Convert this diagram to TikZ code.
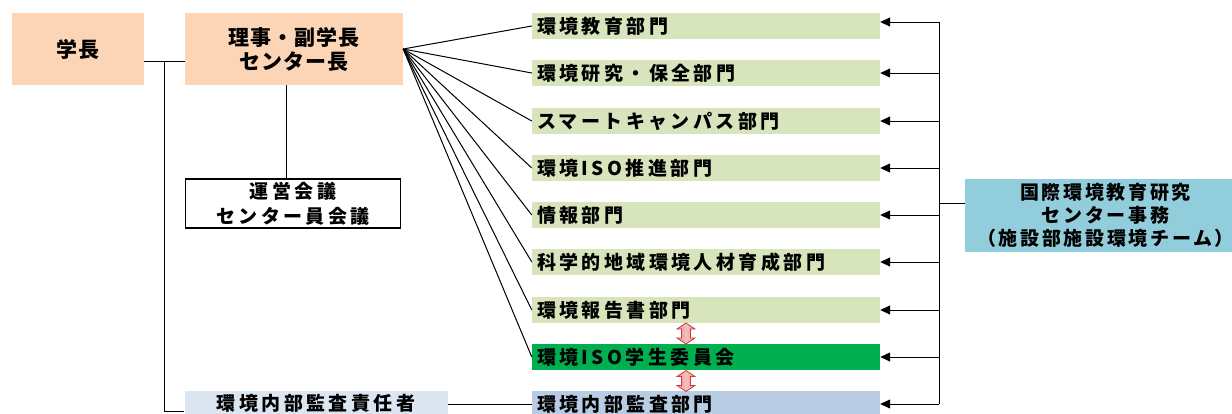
\documentclass[tikz,border=0pt]{standalone}
\usepackage{fontspec}
\usetikzlibrary{arrows.meta}
\newfontfamily\jprow{Noto Sans CJK JP}[LetterSpace=18]
\newfontfamily\jptop{Noto Sans CJK JP}[LetterSpace=4]
\newfontfamily\jpoff{Noto Sans CJK JP}[LetterSpace=14]
\definecolor{peach}{RGB}{251,213,181}
\definecolor{lgreen}{RGB}{216,228,188}
\definecolor{isog}{RGB}{0,176,80}
\definecolor{kansa}{RGB}{184,204,228}
\definecolor{sekin}{RGB}{220,230,241}
\definecolor{officec}{RGB}{146,205,220}
\definecolor{darrfill}{RGB}{236,140,140}
\definecolor{darrline}{RGB}{200,60,60}
\tikzset{
  topbox/.style={fill=peach, inner sep=0pt, align=center,
    font=\jptop\bfseries\fontsize{21}{24}\selectfont},
  rowbox/.style={minimum height=26pt, text width=338pt, inner xsep=5pt, inner ysep=0pt,
    align=left, font=\jprow\bfseries\fontsize{19}{22}\selectfont},
  plainbox/.style={inner sep=0pt, align=center,
    font=\jprow\bfseries\fontsize{19}{25}\selectfont},
  conn/.style={line width=1pt, black},
  arr/.style={line width=1pt, black, -{Triangle[length=10pt,width=9pt]}},
  darrs/.style={draw=darrline, line width=0.8pt, left color=darrfill,
    right color=darrfill, middle color=darrfill!55}
}
\newcommand{\dblarrow}[1]{%
  \path[darrs] (#1) ++(0,-10.5) -- ++(9,6) -- ++(-4.5,0) -- ++(0,9) -- ++(4.5,0)
    -- ++(-9,6) -- ++(-9,-6) -- ++(4.5,0) -- ++(0,-9) -- ++(-4.5,0) -- cycle;}
\begin{document}
\begin{tikzpicture}[x=1pt,y=-1pt]
\useasboundingbox (0,0) rectangle (1232,413);
\clip (0,0) rectangle (1232,413);
% left boxes
\node[topbox, minimum width=132pt, minimum height=72pt] (gaku) at (78,49) {学長};
\node[topbox, minimum width=218pt, minimum height=72pt] (riji) at (294,49) {理事・副学長\\センター長};
\node[plainbox, draw, line width=1.6pt, minimum width=215pt, minimum height=49pt] (unei) at (293,203.5) {運営会議\\センター員会議};
\node[plainbox, fill=sekin, minimum width=263pt, minimum height=24pt] (sekinin) at (316,403) {環境内部監査責任者};
% rows
\node[rowbox, fill=lgreen] (r1) at (706,26) {環境教育部門};
\node[rowbox, fill=lgreen] (r2) at (706,73) {環境研究・保全部門};
\node[rowbox, fill=lgreen] (r3) at (706,121) {スマートキャンパス部門};
\node[rowbox, fill=lgreen] (r4) at (706,168) {環境ISO推進部門};
\node[rowbox, fill=lgreen] (r5) at (706,215) {情報部門};
\node[rowbox, fill=lgreen] (r6) at (706,262) {科学的地域環境人材育成部門};
\node[rowbox, fill=lgreen] (r7) at (706,310) {環境報告書部門};
\node[rowbox, fill=isog] (r8) at (706,357) {環境ISO学生委員会};
\node[rowbox, fill=kansa] (r9) at (706,404) {環境内部監査部門};
% office
\node[fill=officec, minimum width=281pt, minimum height=73pt, inner sep=0pt, align=center,
  font=\jpoff\bfseries\fontsize{19}{23}\selectfont] (office) at (1105.5,215.5)
  {国際環境教育研究\\センター事務\\（施設部施設環境チーム）};
% double arrows between rows
\coordinate (d1) at (686,333.5);
\coordinate (d2) at (686,381);
\dblarrow{d1}
\dblarrow{d2}
% connectors left
\draw[conn] ([yshift=-12pt]gaku.east) -- ([yshift=-12pt]riji.west);
\coordinate (jn) at (164,61);
\draw[conn] (jn) |- ([yshift=-8pt]sekinin.west);
\draw[conn] ([xshift=-8pt]riji.south) -- ([xshift=-8pt]riji.south |- unei.north);
\draw[conn] ([yshift=-1pt]sekinin.east) -- ([yshift=-1pt]sekinin.east -| r9.west);
% fan
\foreach \i in {1,...,8} { \draw[conn] (riji.east) -- (r\i.west); }
% right trunk
\path ([yshift=4pt]r1.east) ++(59,0) coordinate (tT);
\coordinate (tB) at (tT |- r9.east);
\draw[conn] (tT) -- (tB);
\draw[arr] (tT) -- ([yshift=4pt]r1.east);
\foreach \i in {2,...,9} { \draw[arr] (tT |- r\i.east) -- (r\i.east); }
\draw[conn] ([yshift=12pt]office.west) -- ([yshift=12pt]office.west -| tT);
\end{tikzpicture}
\end{document}
